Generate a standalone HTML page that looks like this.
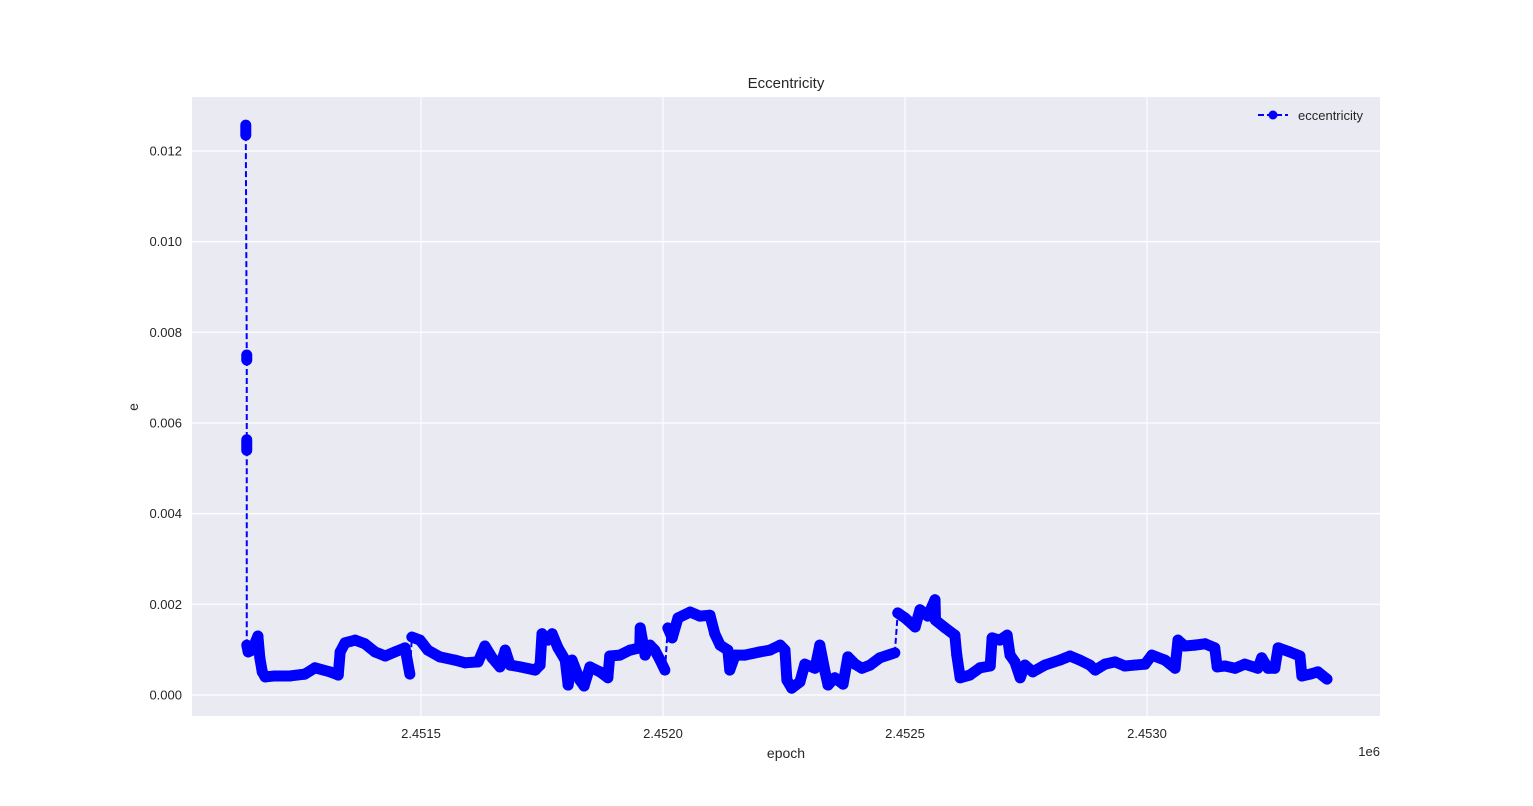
<!DOCTYPE html>
<html><head><meta charset="utf-8">
<style>
html,body{margin:0;padding:0;background:#fff;}
svg{display:block;font-family:"Liberation Sans","DejaVu Sans",sans-serif;}
</style></head>
<body>
<svg id="chart" width="1533" height="806" viewBox="0 0 1533 806">
<rect x="0" y="0" width="1533" height="806" fill="#ffffff"/>
<rect x="192" y="97" width="1188" height="619" fill="#eaeaf2"/>
<g id="grid"></g>
<g id="series"></g>
<g id="axes"></g>
<text x="786" y="88" text-anchor="middle" font-size="15" fill="#262626">Eccentricity</text>
<text x="786" y="758" text-anchor="middle" font-size="14" fill="#262626">epoch</text>
<text x="138" y="407" text-anchor="middle" font-size="14" fill="#262626" transform="rotate(-90 138 407)">e</text>
<text x="1380" y="756" text-anchor="end" font-size="13" fill="#262626">1e6</text>
<g>
<line x1="1258" y1="115" x2="1288" y2="115" stroke="#0000ff" stroke-width="2" stroke-dasharray="6,3"/>
<circle cx="1273" cy="115" r="4.5" fill="#0000ff"/>
<text x="1298" y="120" font-size="13" fill="#262626">eccentricity</text>
</g>
</svg>
<script>
const epochs=[2451138,2451138,2451140,2451140,2451140,2451140,2451140,2451143,2451151,2451163,2451167,2451172,2451178,2451198,2451229,2451260,2451281,2451312,2451329,2451333,2451343,2451364,2451384,2451405,2451426,2451446,2451467,2451477,2451481,2451498,2451514,2451539,2451570,2451591,2451618,2451632,2451647,2451663,2451674,2451684,2451705,2451736,2451746,2451750,2451762,2451771,2451783,2451798,2451804,2451812,2451828,2451837,2451849,2451870,2451886,2451890,2451911,2451932,2451952,2451953,2451963,2451973,2451983,2451994,2452004,2452010,2452019,2452031,2452056,2452076,2452097,2452107,2452118,2452134,2452138,2452149,2452169,2452200,2452221,2452242,2452252,2452256,2452266,2452283,2452293,2452314,2452324,2452335,2452341,2452355,2452372,2452382,2452397,2452411,2452428,2452448,2452479,2452485,2452500,2452521,2452531,2452547,2452562,2452563,2452583,2452603,2452607,2452614,2452634,2452655,2452676,2452680,2452696,2452711,2452717,2452727,2452738,2452748,2452764,2452789,2452820,2452841,2452861,2452882,2452893,2452913,2452934,2452954,2452975,2452996,2453010,2453037,2453058,2453064,2453078,2453099,2453120,2453140,2453145,2453161,2453182,2453202,2453229,2453237,2453250,2453264,2453271,2453295,2453316,2453320,2453337,2453353,2453372];
const eccentricity=[0.01257,0.01235,0.0075,0.00739,0.00563,0.0054,0.0011,0.00095,0.00099,0.0013,0.00082,0.00051,0.0004,0.00042,0.00042,0.00046,0.0006,0.00051,0.00044,0.00095,0.00115,0.00121,0.00113,0.00095,0.00086,0.00095,0.00104,0.00046,0.00128,0.00121,0.00099,0.00084,0.00077,0.00071,0.00073,0.00108,0.00082,0.00062,0.00099,0.00066,0.00062,0.00055,0.00066,0.00135,0.00121,0.00135,0.00104,0.00077,0.00022,0.00077,0.00033,0.0002,0.00062,0.00051,0.00038,0.00086,0.00088,0.00099,0.00104,0.00148,0.00088,0.00110,0.00099,0.00077,0.00055,0.00148,0.00126,0.0017,0.00183,0.00174,0.00176,0.00135,0.00110,0.00099,0.00055,0.00088,0.00088,0.00095,0.00099,0.00110,0.00099,0.00033,0.00015,0.00029,0.00068,0.00059,0.00110,0.0005,0.00022,0.00038,0.00024,0.00084,0.00068,0.00059,0.00066,0.00082,0.00093,0.00181,0.00170,0.0015,0.00188,0.00174,0.0021,0.00165,0.00148,0.00132,0.00088,0.00038,0.00044,0.0006,0.00064,0.00126,0.00121,0.00132,0.00088,0.00073,0.00038,0.00066,0.00051,0.00066,0.00077,0.00086,0.00077,0.00066,0.00055,0.00068,0.00073,0.00064,0.00066,0.00068,0.00088,0.00077,0.00059,0.00121,0.00108,0.0011,0.00113,0.00104,0.00062,0.00064,0.00059,0.00068,0.00059,0.00082,0.00059,0.00059,0.00104,0.00095,0.00086,0.00042,0.00046,0.00051,0.00035];
const yTicks=[0,0.002,0.004,0.006,0.008,0.010,0.012];
const yTickLabels=["0.000","0.002","0.004","0.006","0.008","0.010","0.012"];
const xTicks=[2451500,2452000,2452500,2453000];
const xTickLabels=["2.4515","2.4520","2.4525","2.4530"];

const NS="http://www.w3.org/2000/svg";
const X0=192,X1=1380,Y0=97,Y1=716;
function xScale(v){return 421+(v-2451500)*(242/500);}
function yScale(v){return 695-v*(90.67/0.002);}
function mk(tag,attrs,parent){const e=document.createElementNS(NS,tag);for(const k in attrs)e.setAttribute(k,attrs[k]);parent.appendChild(e);return e;}
const grid=document.getElementById('grid'),axes=document.getElementById('axes'),series=document.getElementById('series');
yTicks.forEach((t,i)=>{
  const y=yScale(t);
  const l=mk('line',{x1:X0,x2:X1,y1:y,y2:y,stroke:'#ffffff','stroke-width':1.2},grid);
  
  
  const tx=mk('text',{x:182,y:y+4.5,'text-anchor':'end','font-size':13,fill:'#262626'},axes);
  tx.textContent=yTickLabels[i];
  
  
});
xTicks.forEach((t,i)=>{
  const x=xScale(t);
  const l=mk('line',{x1:x,x2:x,y1:Y0,y2:Y1,stroke:'#ffffff','stroke-width':1.2},grid);
  
  
  const tx=mk('text',{x:x,y:738,'text-anchor':'middle','font-size':13,fill:'#262626'},axes);
  tx.textContent=xTickLabels[i];
  
  
});
for(let i=1;i<epochs.length;i++){
  const xa=xScale(epochs[i-1]),ya=yScale(eccentricity[i-1]),xb=xScale(epochs[i]),yb=yScale(eccentricity[i]);
  const big=Math.abs(yb-ya)>32;
  const seg=mk('line',{x1:xa,y1:ya,x2:xb,y2:yb,stroke:'#0000ff','stroke-width':big?2:11,'stroke-linecap':big?'butt':'round'},series);
  if(big)seg.setAttribute('stroke-dasharray','6,3');
  
  
}
epochs.forEach((ep,i)=>{
  const c=mk('circle',{cx:xScale(ep),cy:yScale(eccentricity[i]),r:5,fill:'#0000ff'},series);
  
  
});
</script>
</body></html>
